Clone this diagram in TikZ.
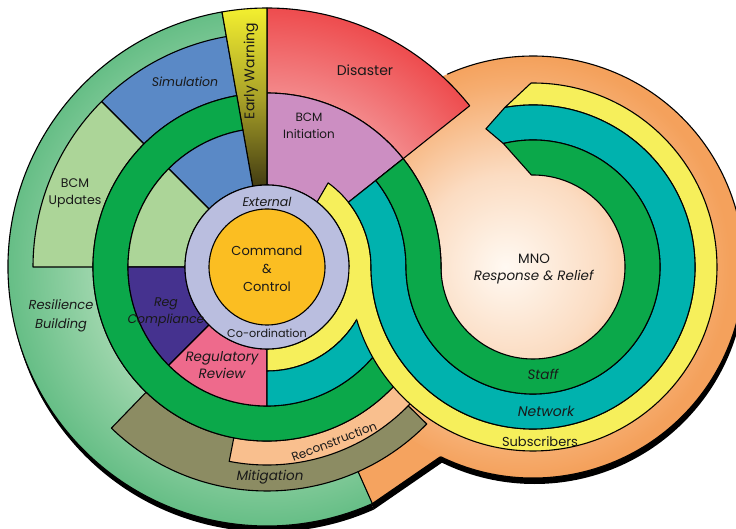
\documentclass[tikz,border=0pt]{standalone}
\usepackage{fontspec}
\setmainfont{Poppins}
\usetikzlibrary{calc}

\definecolor{dgreen}{HTML}{0BA84A}
\definecolor{tealb}{HTML}{00B2AE}
\definecolor{yel}{HTML}{F6EF5B}
\definecolor{lav}{HTML}{BABEDF}
\definecolor{corec}{HTML}{FBBE22}
\definecolor{bcmic}{HTML}{CC8EC2}
\definecolor{simb}{HTML}{5A89C6}
\definecolor{lgreen}{HTML}{ACD598}
\definecolor{indig}{HTML}{45328F}
\definecolor{pinkr}{HTML}{EE6A8C}
\definecolor{olivec}{HTML}{8C8C63}
\definecolor{recon}{HTML}{F9BF8E}
\definecolor{orng}{HTML}{F5A35F}
\definecolor{ewtop}{HTML}{F3EF2F}
\definecolor{ewmid}{HTML}{A9A228}
\definecolor{ewbot}{HTML}{433C12}
\definecolor{disA}{HTML}{F3888A}
\definecolor{disB}{HTML}{EE4C4E}
\definecolor{resA}{HTML}{9CD5AB}
\definecolor{resB}{HTML}{66BE86}
\definecolor{mnoA}{HTML}{FFF9F2}
\definecolor{mnoB}{HTML}{FBDCC2}
\definecolor{mnoC}{HTML}{F6AC6E}
\definecolor{mnoD}{HTML}{F4A15C}

\pgfdeclareradialshading{mnoshade}{\pgfpoint{-3.3bp}{0bp}}{color(0bp)=(mnoA); color(11bp)=(mnoB); color(21.9bp)=(mnoC); color(25bp)=(mnoD); color(50bp)=(mnoD)}
\pgfdeclareradialshading{resshade}{\pgfpoint{0bp}{0bp}}{color(0bp)=(resA); color(16.8bp)=(resA); color(25bp)=(resB); color(50bp)=(resB)}
\pgfdeclareradialshading{disshade}{\pgfpoint{0bp}{0bp}}{color(0bp)=(disA); color(16.8bp)=(disA); color(25bp)=(disB); color(50bp)=(disB)}

\newcommand{\annsec}[5]{($(#1)+(#2:#4)$) arc[start angle=#2,end angle=#3,radius=#4] -- ($(#1)+(#3:#5)$) arc[start angle=#3,end angle=#2,radius=#5] -- cycle}

\tikzset{
  lab/.style={font=\fontsize{12.5}{17}\selectfont, align=center, inner sep=0pt, text=black!90},
  labi/.style={font=\fontsize{12.5}{17}\selectfont\itshape, align=center, inner sep=0pt, text=black!90},
}

\begin{document}
\begin{tikzpicture}[x=1pt,y=1pt,line width=1.1pt,line join=round]
\useasboundingbox (0,0) rectangle (736,528);
\fill[white] (0,0) rectangle (736,528);
\coordinate (L) at (267,261);
\coordinate (M) at (533,261);
\coordinate (Ls) at (268.5,255);
\coordinate (Ms) at (534.5,255);

% shadow
\fill[black] (Ls) -- ($(Ls)+(38.5:259)$) arc[start angle=38.5,end angle=294,radius=259] -- cycle;
\fill[black] (Ms) circle[radius=211];
\fill[black] (Ls) -- ($(Ls)+(-66:259)$) -- ($(Ms)+(244:211)$) -- (Ms) -- cycle;

% bridge
\fill[orng] (L) -- ($(L)+(-66:259)$) -- ($(M)+(244:211)$) -- (M) -- cycle;
\draw ($(L)+(-66:259)$) -- ($(M)+(244:211)$);

% MNO disc
\shade[shading=mnoshade] (M) circle[radius=211];
\draw ($(M)+(244:211)$) arc[start angle=244,end angle=474,radius=211];

% left circle outer parts
\begin{scope}
  \clip \annsec{L}{100}{294}{259}{174};
  \shade[shading=resshade] (L) circle[radius=259];
\end{scope}
\draw \annsec{L}{100}{294}{259}{174};
\draw[fill=simb] \annsec{L}{100}{135}{234}{174};
\draw[fill=lgreen] \annsec{L}{135}{180}{234}{174};
\draw[fill=olivec] \annsec{L}{226}{315.5}{224}{174};
\draw[fill=recon] \annsec{L}{259}{318}{198}{174};
\begin{scope}
  \clip \annsec{L}{38.5}{90}{259}{174};
  \shade[shading=disshade] (L) circle[radius=259];
\end{scope}
\draw \annsec{L}{38.5}{90}{259}{174};
\draw[fill=bcmic] \annsec{L}{38.5}{90}{174}{82};
\draw[top color=ewtop,bottom color=ewbot,middle color=ewmid] \annsec{L}{90}{100}{259}{82};
\draw[fill=dgreen] \annsec{L}{100}{398.5}{174}{139};
% inner sectors
\draw[fill=simb] \annsec{L}{100}{135}{139}{82};
\draw[fill=lgreen] \annsec{L}{135}{180}{139}{82};
\draw[fill=indig] \annsec{L}{180}{225}{139}{82};
\draw[fill=pinkr] \annsec{L}{225}{270}{139}{82};
\draw[fill=yel] \annsec{L}{270}{360}{104}{82};
\draw[fill=tealb] \annsec{L}{270}{360}{139}{104};

% S bands
\fill[yel] ($(L)+(54:104)$) arc[start angle=54,end angle=0,radius=104]
  arc[start angle=180,end angle=460,radius=162]
  -- ($(M)+(450.6:184)$) arc[start angle=450.6,end angle=180,radius=184]
  arc[start angle=0,end angle=52.4,radius=82] -- cycle;
\draw ($(L)+(0:82)$) arc[start angle=0,end angle=52.4,radius=82]
  -- ($(L)+(54:104)$) arc[start angle=54,end angle=0,radius=104]
  arc[start angle=180,end angle=460,radius=162]
  -- ($(M)+(450.6:184)$) arc[start angle=450.6,end angle=196.6,radius=184];
\draw[fill=tealb] ($(L)+(38.5:139)$) arc[start angle=38.5,end angle=0,radius=139]
  arc[start angle=180,end angle=463.5,radius=127]
  -- ($(M)+(468.8:146)$) -- ($(M)+(460:162)$)
  arc[start angle=460,end angle=180,radius=162]
  arc[start angle=0,end angle=38.5,radius=104] -- cycle;
\draw[fill=dgreen] ($(L)+(38.5:174)$) arc[start angle=38.5,end angle=0,radius=174]
  arc[start angle=180,end angle=451,radius=92]
  -- ($(M)+(463.5:127)$)
  arc[start angle=463.5,end angle=180,radius=127]
  arc[start angle=0,end angle=38.5,radius=139] -- cycle;

% centre
\draw[fill=lav] (L) circle[radius=82];
\draw[fill=corec] (L) circle[radius=58];

% labels
\node[lab,font=\fontsize{14}{17}\selectfont] (tdis) at (365,458) {Disaster};
\node[lab,font=\fontsize{12}{17}\selectfont] (tbcmi) at (309,402) {BCM\\Initiation};
\node[labi] (tsim) at (185,446) {Simulation};
\node[lab,rotate=90,font=\fontsize{14}{17}\selectfont] (tew) at (251,457) {Early Warning};
\node[lab] (tbcmu) at (75,335) {BCM\\Updates};
\node[labi,font=\fontsize{13}{19}\selectfont\itshape] (tres) at (61,212) {Resilience\\Building};
\node[labi] (tregc) at (166,216) {Reg\\Compliance};
\node[labi,font=\fontsize{13.5}{17}\selectfont\itshape] (tregr) at (222,163) {Regulatory\\Review};
\node[labi] (text) at (267,326) {External};
\node[lab,font=\fontsize{13}{18}\selectfont] (tcc) at (267,259.5) {Command\\\&\\Control};
\node[lab,font=\fontsize{11.2}{14}\selectfont] (tcoord) at (267,195) {Co-ordination};
\node[labi,font=\fontsize{13.5}{17}\selectfont\itshape] (tmit) at (270,51) {Mitigation};
\node[lab,font=\fontsize{13.5}{17}\selectfont] (tmno) at (534,259.5) {MNO\\\textit{Response \& Relief}};
\node[labi,font=\fontsize{13.5}{17}\selectfont\itshape] (tstaff) at (543,154) {Staff};
\node[labi,font=\fontsize{14}{17}\selectfont\itshape] (tnet) at (546,117) {Network};
\node[lab,font=\fontsize{13}{17}\selectfont] (tsubs) at (540,86) {Subscribers};
\node[lab,font=\fontsize{12}{17}\selectfont,rotate=21] (trec) at (334,86.6) {Reconstruction};
\end{tikzpicture}
\end{document}
